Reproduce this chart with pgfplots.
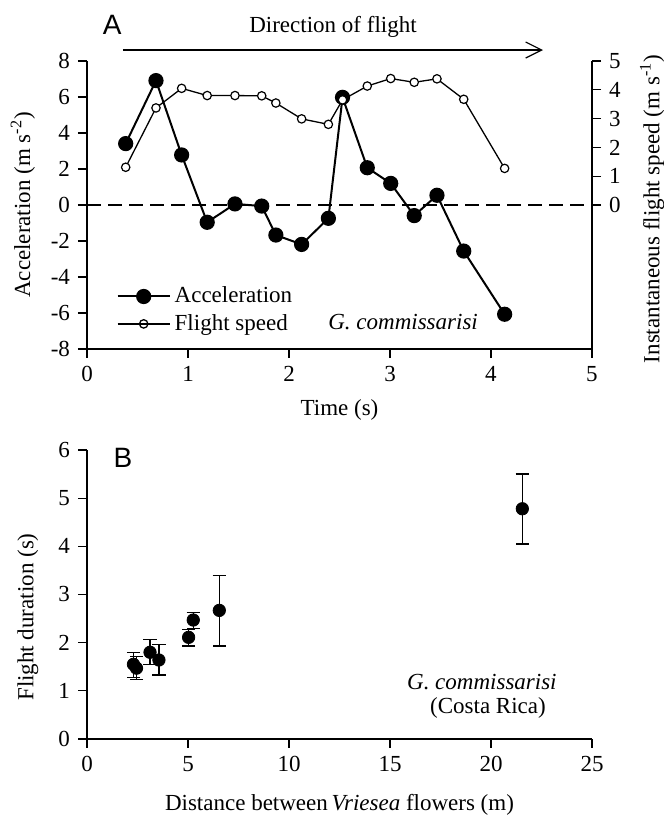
\documentclass[border=0pt]{standalone}
\usepackage{fontspec}
\setmainfont{Liberation Serif}
\newfontfamily\arialfont{Liberation Sans}
\usepackage{pgfplots}
\usepackage{pgfplotstable}
\pgfplotsset{compat=1.18}
\usetikzlibrary{arrows.meta}

\pgfplotstableread{
t acc
0.383 3.41
0.683 6.91
0.937 2.78
1.190 -0.96
1.465 0.06
1.730 -0.06
1.870 -1.67
2.125 -2.19
2.390 -0.74
2.530 5.98
2.775 2.07
3.007 1.20
3.240 -0.59
3.465 0.54
3.730 -2.56
4.135 -6.07
}\acctable

\pgfplotstableread{
t speed
0.383 1.31
0.683 3.37
0.937 4.05
1.190 3.80
1.465 3.80
1.730 3.79
1.870 3.54
2.125 2.99
2.390 2.80
2.530 3.65
2.775 4.13
3.007 4.39
3.240 4.26
3.465 4.38
3.730 3.67
4.135 1.27
}\speedtable

\pgfplotstableread{
d dur ep em
2.30 1.55 0.25 0.28
2.45 1.47 0.24 0.24
3.12 1.80 0.26 0.25
3.56 1.64 0.32 0.31
5.03 2.11 0.17 0.18
5.26 2.47 0.16 0.17
6.55 2.67 0.72 0.74
21.55 4.78 0.72 0.73
}\durtable

\pgfplotsset{
  every axis/.append style={
    scale only axis,
    /pgf/number format/assume math mode=true,
    major tick length=4.5pt,
    tick style={black, line width=0.6pt},
    axis line style={black, line width=0.6pt, -},
    clip=false,
  },
}

\begin{document}
\fontsize{11.5}{13.8}\selectfont
\begin{tikzpicture}
\useasboundingbox (0,0) rectangle (331.5pt,408.5pt);

% Panel A, acceleration
\begin{axis}[
  at={(43.5pt,234pt)}, anchor=south west,
  width=252.5pt, height=144pt,
  xmin=0, xmax=5, ymin=-8, ymax=8,
  axis x line*=bottom, axis y line*=left,
  xtick align=outside, ytick align=outside,
  xtick={0,1,2,3,4,5}, ytick={-8,-6,-4,-2,0,2,4,6,8},
  xlabel={Time (s)},
  ylabel={Acceleration (m s\textsuperscript{-2})},
  every axis x label/.style={at={(axis description cs:0.5,-0.212)}, anchor=center},
  every axis y label/.style={at={(axis description cs:-0.127,0.5)}, rotate=90, anchor=center},
  legend style={at={(axis cs:0.29,-4.3)}, anchor=north west, draw=none, fill=none,
    font=\fontsize{11.5}{13.8}\selectfont, row sep=0pt, inner sep=0pt},
  legend cell align=left,
  legend image code/.code={\draw[mark repeat=2,mark phase=2,#1] plot coordinates {(0pt,0pt)(13pt,0pt)(26pt,0pt)};},
]
\addplot[black, line width=0.6pt, dash pattern=on 7pt off 3.5pt, forget plot] coordinates {(0,0) (5,0)};
\addplot[black, line width=1pt, mark=*, mark size=3.3pt, mark options={fill=black, solid}] table[x=t, y=acc] {\acctable};
\addlegendentry{Acceleration}
\addlegendimage{black, line width=0.65pt, mark=o, mark size=2.1pt, mark options={fill=white, solid}}
\addlegendentry{Flight speed}
\node[anchor=west, font=\itshape] at (axis cs:2.31,-6.5) {G. commissarisi};
\draw[line width=0.6pt, -{Straight Barb[length=8pt,width=8pt]}] (axis cs:0.356,8.61) -- (axis cs:4.515,8.61)
  node[midway, above=2pt] {Direction of flight};
\node[font=\arialfont\fontsize{14}{16}\selectfont] at (axis cs:0.25,10.0) {A};
\end{axis}

% Panel A, speed
\begin{axis}[
  at={(43.5pt,234pt)}, anchor=south west,
  width=252.5pt, height=144pt,
  xmin=0, xmax=5, ymin=-5, ymax=5,
  axis y line*=right, hide x axis,
  ytick align=outside,
  ytick={0,1,2,3,4,5},
  ylabel={Instantaneous flight speed (m s\textsuperscript{-1})},
  every axis y label/.style={at={(axis description cs:1.119,0.486)}, rotate=90, anchor=center},
]
\addplot[black, line width=0.65pt, mark=*, mark size=2.1pt, mark options={fill=white, solid, line width=0.6pt}] table[x=t, y=speed] {\speedtable};
\end{axis}

% Panel B
\begin{axis}[
  at={(43.5pt,39pt)}, anchor=south west,
  width=252.5pt, height=144.5pt,
  xmin=0, xmax=25, ymin=0, ymax=6,
  axis x line*=bottom, axis y line*=left,
  xtick align=outside, ytick align=outside,
  xtick={0,5,10,15,20,25}, ytick={0,1,2,3,4,5,6},
  xlabel={Distance between\,\textit{Vriesea} flowers (m)},
  ylabel={Flight duration (s)},
  every axis x label/.style={at={(axis description cs:0.5,-0.228)}, anchor=center},
  every axis y label/.style={at={(axis description cs:-0.117,0.422)}, rotate=90, anchor=center},
]
\addplot[only marks, black, mark=*, mark size=3.1pt, mark options={fill=black},
  error bars/.cd, y dir=both, y explicit,
  error bar style={line width=0.6pt, black},
  error mark options={rotate=90, mark size=3.3pt, line width=0.6pt, black}]
  table[x=d, y=dur, y error plus=ep, y error minus=em] {\durtable};
\node[font=\itshape] at (axis cs:19.55,1.19) {G. commissarisi};
\node at (axis cs:19.85,0.64) {(Costa Rica)};
\node[font=\arialfont\fontsize{14}{16}\selectfont] at (axis cs:1.78,5.84) {B};
\end{axis}
\end{tikzpicture}
\end{document}
